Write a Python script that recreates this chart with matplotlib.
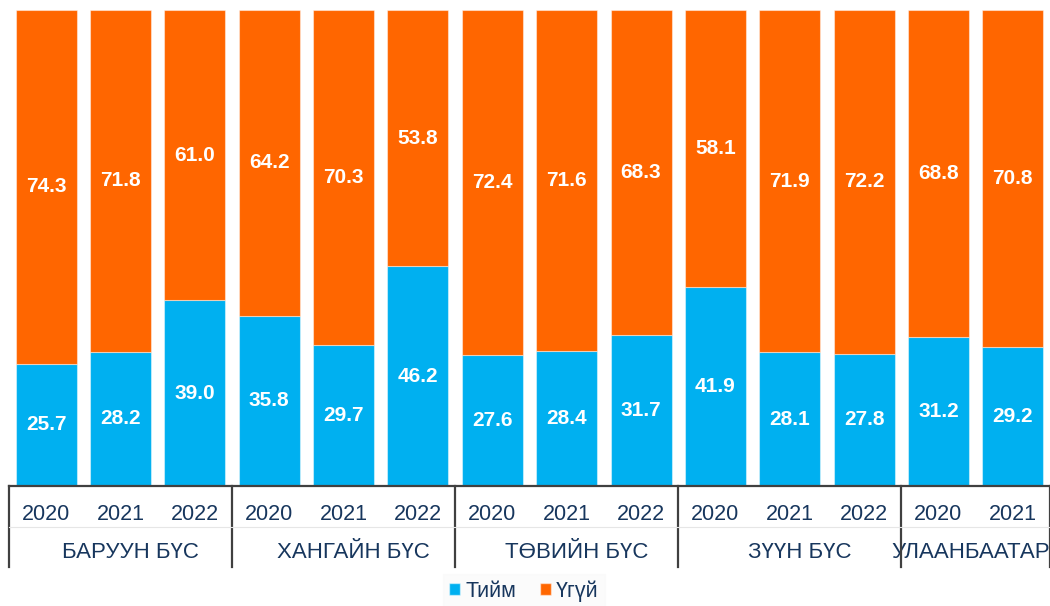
import matplotlib
matplotlib.use("Agg")
import matplotlib.pyplot as plt
import matplotlib.transforms as mtransforms
from matplotlib.lines import Line2D
from matplotlib.patches import Patch
import numpy as np

plt.rcParams["font.family"] = ["Liberation Sans", "DejaVu Sans"]

BLUE = "#00B0F0"
ORANGE = "#FF6600"
NAVY = "#17365D"

years = ["2020", "2021", "2022", "2020", "2021", "2022", "2020", "2021", "2022",
         "2020", "2021", "2022", "2020", "2021"]
groups = ["БАРУУН БҮС", "ХАНГАЙН БҮС", "ТӨВИЙН БҮС", "ЗҮҮН БҮС", "УЛААНБААТАР"]
group_sizes = [3, 3, 3, 3, 2]
yes_vals = [25.7, 28.2, 39.0, 35.8, 29.7, 46.2, 27.6, 28.4, 31.7, 41.9, 28.1, 27.8, 31.2, 29.2]
no_vals = [74.3, 71.8, 61.0, 64.2, 70.3, 53.8, 72.4, 71.6, 68.3, 58.1, 71.9, 72.2, 68.8, 70.8]

fig = plt.figure(figsize=(10.5, 6.06), dpi=100)
ax = fig.add_axes([9 / 1050, 120 / 606, 1 - 9 / 1050, 476 / 606])

x = np.arange(len(years))
w = 0.82
edge = (1, 1, 1, 0.45)
ax.bar(x, yes_vals, w, color=BLUE, edgecolor=edge, linewidth=0.8, label="Тийм")
ax.bar(x, no_vals, w, bottom=yes_vals, color=ORANGE, edgecolor=edge, linewidth=0.8, label="Үгүй")

for i in range(len(x)):
    ax.text(x[i], yes_vals[i] / 2, f"{yes_vals[i]:.1f}", ha="center", va="center",
            color="white", fontsize=15, fontweight="bold")
    ax.text(x[i], yes_vals[i] + no_vals[i] / 2, f"{no_vals[i]:.1f}", ha="center", va="center",
            color="white", fontsize=15, fontweight="bold")

ax.set_xlim(-0.5, 13.5)
ax.set_ylim(0, 100)
for s in ["top", "right", "left"]:
    ax.spines[s].set_visible(False)
ax.spines["bottom"].set_color("#404040")
ax.spines["bottom"].set_linewidth(1.6)
ax.set_xticks([])
ax.set_yticks([])

# category axis: years and groups
trans = mtransforms.blended_transform_factory(ax.transData, fig.transFigure)
y_year = 1 - 514 / 606
y_group = 1 - 553 / 606
for i, yr in enumerate(years):
    ax.text(x[i], y_year, yr, transform=trans, ha="center", va="center",
            fontsize=15.5, color=NAVY)

start = 0
bounds = [-0.5]
for g, n in zip(groups, group_sizes):
    center = start + (n - 1) / 2
    shift = 0.13 if n == 3 else -0.06
    ax.text(center + shift, y_group, g, transform=trans, ha="center", va="center",
            fontsize=16, color=NAVY, clip_on=False)
    start += n
    bounds.append(start - 0.5)

for b in bounds:
    fig.add_artist(Line2D([b, b], [1 - 486 / 606, 1 - 567 / 606], transform=trans,
                          color="#404040", lw=1.6))
fig.add_artist(Line2D([-0.5, 13.5], [1 - 527 / 606] * 2, transform=trans,
                      color="#E6E6E6", lw=0.8))

handles = [Patch(facecolor=BLUE, edgecolor=(1, 1, 1, 0.5)), Patch(facecolor=ORANGE, edgecolor=(1, 1, 1, 0.5))]
fig.legend(handles, ["Тийм", "Үгүй"], loc="center", bbox_to_anchor=(524 / 1050, 1 - 591 / 606),
           ncol=2, frameon=True, facecolor="#FAFAFA", edgecolor="#FAFAFA", fancybox=False,
           fontsize=15.5, handlelength=0.5, handleheight=0.5, handletextpad=0.25,
           columnspacing=1.1, labelcolor=NAVY, borderpad=0.3)

fig.savefig("out.png", dpi=100, facecolor="white")
